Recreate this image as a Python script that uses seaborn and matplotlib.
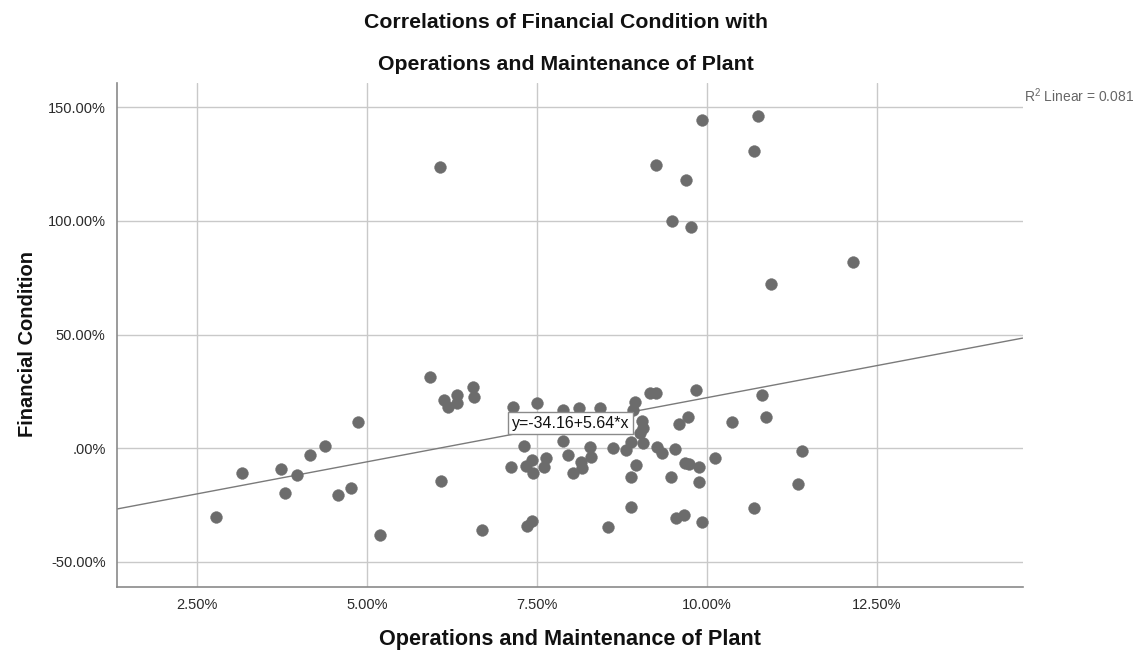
import matplotlib
matplotlib.use("Agg")
import matplotlib.pyplot as plt
import seaborn as sns
import pandas as pd
from matplotlib.ticker import FuncFormatter, FixedLocator

# Operations and Maintenance of Plant (%), per institution
ops_maint = [
    2.78, 3.16, 3.73, 3.79, 3.97, 4.16, 4.39, 4.58, 4.76, 4.87, 5.19,
    5.93, 6.13, 6.20, 6.33, 6.32, 6.56, 6.57, 6.09, 6.70, 6.07,
    7.15, 7.50, 7.31, 7.12, 7.34, 7.43, 7.44, 7.60, 7.64, 7.88, 7.96, 8.03,
    8.15, 8.17, 8.29, 8.30, 8.62, 8.12, 8.43, 7.89, 7.35, 7.43, 8.55,
    9.17, 9.26, 9.84, 10.82, 10.87, 10.37, 9.72, 9.60, 8.95, 8.92, 9.05,
    9.07, 9.02, 8.88, 9.07, 8.81, 9.27, 9.34, 9.53, 10.12, 11.40, 9.68,
    9.74, 9.88, 8.96, 8.88, 9.47, 9.88, 11.34, 8.88, 10.70, 9.55, 9.66, 9.93,
    9.93, 10.76, 10.69, 9.25, 9.69, 9.49, 9.77, 10.95, 12.15,
]

# Financial Condition (%), same institutions
fin_cond = [
    -30.1, -10.7, -9.1, -19.7, -11.6, -2.9, 0.9, -20.4, -17.5, 11.4, -38.0,
    31.5, 21.2, 18.3, 23.4, 20.1, 27.1, 22.4, -14.3, -35.9, 123.8,
    18.0, 20.1, 1.1, -8.2, -7.8, -5.1, -10.7, -8.1, -4.4, 3.1, -3.1, -11.0,
    -5.9, -8.6, 0.4, -4.0, 0.0, 17.6, 17.6, 16.8, -34.1, -31.9, -34.5,
    24.2, 24.2, 25.6, 23.4, 13.6, 11.7, 13.9, 10.6, 20.5, 16.8, 12.0,
    8.8, 6.7, 2.9, 2.2, -0.7, 0.4, -1.9, -0.4, -4.1, -1.1, -6.6,
    -7.0, -8.1, -7.3, -12.5, -12.5, -14.7, -15.7, -25.7, -26.3, -30.7, -29.2, -32.6,
    144.3, 146.3, 130.8, 124.8, 118.0, 100.1, 97.5, 72.4, 82.1,
]

# Fitted linear model reported with the chart
intercept = -34.16
slope = 5.64
r_squared = 0.081

x_ticks = [2.5, 5.0, 7.5, 10.0, 12.5]
y_ticks = [-50, 0, 50, 100, 150]

title_lines = ["Correlations of Financial Condition with",
               "Operations and Maintenance of Plant"]
x_label = "Operations and Maintenance of Plant"
y_label = "Financial Condition"

sns.set_theme(style="white")
plt.rcParams["font.family"] = ["Liberation Sans", "DejaVu Sans"]
plt.rcParams["mathtext.fontset"] = "custom"
plt.rcParams["mathtext.rm"] = "Liberation Sans"
plt.rcParams["mathtext.it"] = "Liberation Sans:italic"
plt.rcParams["mathtext.bf"] = "Liberation Sans:bold"

df = pd.DataFrame({"x": ops_maint, "y": fin_cond})

fig = plt.figure(figsize=(11.4, 6.56), dpi=100)
ax = fig.add_axes([0.1024, 0.1052, 0.7947, 0.7688])

ax.set_xlim(1.32, 14.65)
ax.set_ylim(-61.0, 160.8)

ax.xaxis.set_major_locator(FixedLocator(x_ticks))
ax.yaxis.set_major_locator(FixedLocator(y_ticks))


def pct(v, _pos=None):
    s = f"{v:.2f}%"
    if s.startswith("0."):
        s = s[1:]
    elif s.startswith("-0."):
        s = "-" + s[2:]
    return s


ax.xaxis.set_major_formatter(FuncFormatter(pct))
ax.yaxis.set_major_formatter(FuncFormatter(pct))

ax.grid(True, color="#c9c9c9", linewidth=1.0, zorder=0)
ax.set_axisbelow(True)

for side in ("top", "right"):
    ax.spines[side].set_visible(False)
for side in ("left", "bottom"):
    ax.spines[side].set_color("#8a8a8a")
    ax.spines[side].set_linewidth(1.2)

ax.tick_params(axis="both", length=0, labelsize=10.5, labelcolor="#2a2a2a", pad=8)

sns.scatterplot(data=df, x="x", y="y", ax=ax, color="#6c6c6c", s=72,
                edgecolor="#6c6c6c", linewidth=0.3, zorder=3, legend=False)

# Linear fit line across the whole plotting area
ax.axline((0, intercept), slope=slope, color="#7a7a7a", linewidth=1.0, zorder=2)

# Equation label placed on the fit line
lx = 8.0
ax.text(lx, intercept + slope * lx, f"y={intercept:.2f}+{slope:.2f}*x",
        ha="center", va="center", fontsize=11.5, color="#111111", zorder=5,
        bbox=dict(boxstyle="square,pad=0.22", facecolor="white",
                  edgecolor="#8a8a8a", linewidth=1.0))

ax.set_xlabel("")
ax.set_ylabel("")

title_x = 566 / 1140
fig.text(title_x, 1 - 22 / 656, title_lines[0], ha="center", va="center",
         fontsize=15.3, fontweight="bold", color="#111111")
fig.text(title_x, 1 - 65 / 656, title_lines[1], ha="center", va="center",
         fontsize=15.3, fontweight="bold", color="#111111")
fig.text(570 / 1140, 1 - 640 / 656, x_label, ha="center", va="center",
         fontsize=15.6, fontweight="bold", color="#111111")
fig.text(28 / 1140, 1 - 344 / 656, y_label, ha="center", va="center",
         rotation=90, fontsize=14.5, fontweight="bold", color="#111111")

fig.text(1024 / 1140, 1 - 96 / 656, f"R$^2$ Linear = {r_squared:.3f}",
         ha="left", va="center", fontsize=10, color="#666666")

fig.savefig("out.png", dpi=100)
